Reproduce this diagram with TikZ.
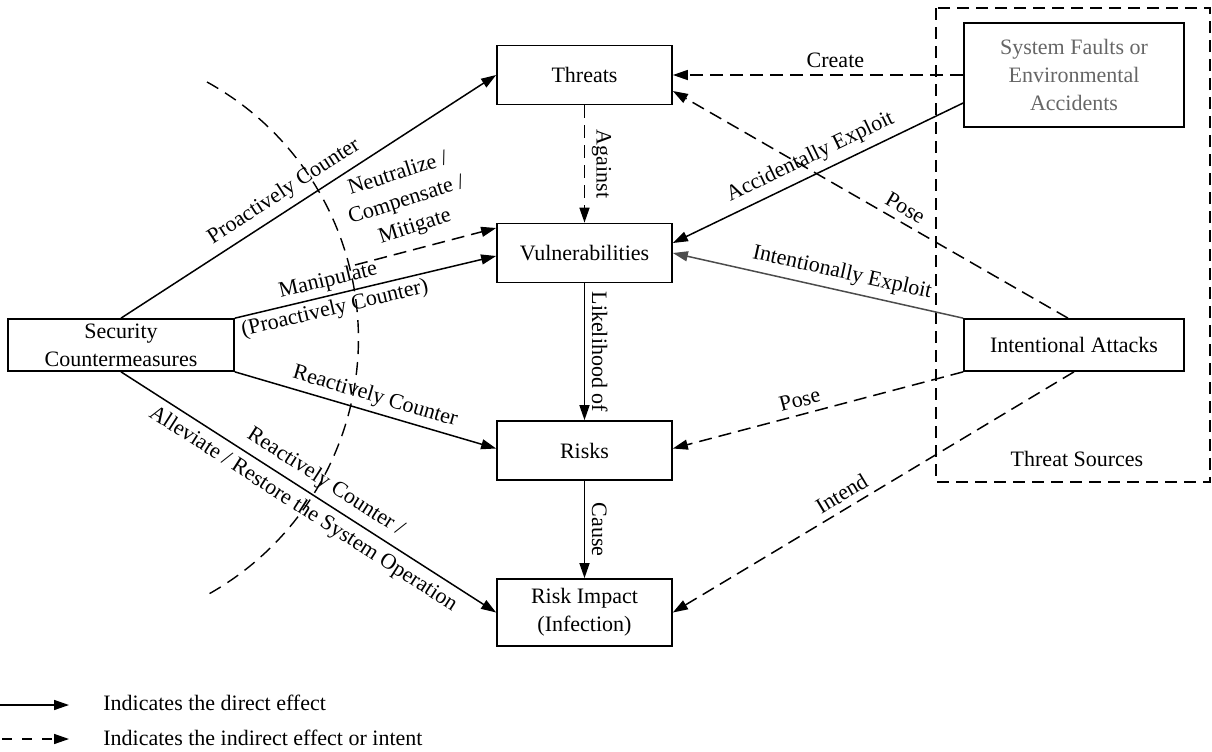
\documentclass[tikz,border=0pt]{standalone}
\usepackage{fontspec}
\setmainfont{Liberation Serif}
\usetikzlibrary{arrows.meta,calc}
\begin{document}
\begin{tikzpicture}[x=0.5pt,y=-0.5pt,
  font=\fontsize{11}{13.9}\selectfont,
  box/.style={draw,line width=0.85pt,align=center,inner sep=0pt,minimum width=87.5pt,minimum height=29.5pt},
  conn/.style={line width=0.75pt,-{Triangle[length=7.5pt,width=5pt]}},
  dsh/.style={conn,dash pattern=on 6.5pt off 3.5pt},
  lab/.style={sloped,above},
  arcstyle/.style={line width=0.7pt,dash pattern=on 6.5pt off 4pt},
  srcbox/.style={line width=0.7pt,dash pattern=on 6pt off 3.5pt},
]
\useasboundingbox (0,0) rectangle (1212,751);

% threat sources dashed frame
\draw[srcbox] (936,8) rectangle (1210,482);
\node (srclab) at (1077,459) {Threat Sources};

% boxes
\node[box] (thr) at (584.5,75) {Threats};
\node[box] (vul) at (584.5,253) {Vulnerabilities};
\node[box] (risk) at (584.5,450.5) {Risks};
\node[box,minimum height=33.5pt] (imp) at (584.5,612.5) {Risk Impact\\(Infection)};
\node[box,minimum width=113pt,minimum height=26pt] (sec) at (121,345) {Security\\Countermeasures};
\node[box,minimum width=110pt,minimum height=52pt,text=black!60] (sys) at (1074,75) {System Faults or\\Environmental\\Accidents};
\node[box,minimum width=110pt,minimum height=26pt] (att) at (1074,345) {Intentional Attacks};

% dashed arc
\coordinate (arcA) at (207,82);
\draw[arcstyle] (arcA) arc[start angle=-61.1, end angle=61.1, radius=293];
\coordinate (nstart) at (355,265);

% security countermeasures connectors
\draw[conn] (sec.north) -- (thr.west)
  node[lab,pos=0.46] {Proactively Counter};
\draw[conn] (sec.north east) -- ($(vul.west)+(0,3)$)
  node[sloped,pos=0.37,align=center,font=\fontsize{11}{14.5}\selectfont] {Manipulate\\(Proactively Counter)};
\draw[dsh] (nstart) -- ($(vul.west)+(0,-25)$)
  node[sloped,above,pos=0.47,align=center,yshift=2pt,rotate=3] {Neutralize /\\Compensate /\\Mitigate};
\draw[conn] (sec.south east) -- ($(risk.west)+(0,-2)$)
  node[lab,pos=0.52,yshift=-1pt] {Reactively Counter};
\draw[conn] (sec.south) -- (imp.west)
  node[lab,pos=0.52] {Reactively Counter /}
  node[sloped,below,pos=0.51] {Alleviate / Restore the System Operation};

% vertical chain
\draw[dsh] (thr.south) -- (vul.north) node[lab,midway] {Against};
\draw[conn] (vul.south) -- (risk.north) node[lab,midway] {Likelihood of};
\draw[conn] (risk.south) -- (imp.north) node[lab,midway] {Cause};

% threat sources connectors
\draw[dsh] (sys.west) -- (thr.east) node[lab,pos=0.44] {Create};
\draw[conn] ($(sys.west)+(0,28)$) -- ($(vul.east)+(0,-10)$)
  node[lab,pos=0.5] {Accidentally Exploit};
\draw[dsh] ($(att.north)+(-6,0)$) -- ($(thr.east)+(0,16)$)
  node[lab,pos=0.43] {Pose};
\draw[conn,draw=black!70,fill=black!70] (att.north west) -- (vul.east)
  node[lab,pos=0.43,text=black] {Intentionally Exploit};
\draw[dsh] (att.south west) -- ($(risk.east)+(0,-2)$)
  node[lab,pos=0.55] {Pose};
\draw[dsh] (att.south) -- (imp.east)
  node[lab,pos=0.56] {Intend};

% legend
\coordinate (l1a) at (0,705);
\coordinate (l1b) at (69,705);
\coordinate (l2a) at (2,739);
\coordinate (l2b) at (69,739);
\draw[conn] (l1a) -- (l1b);
\draw[conn,dash pattern=on 5pt off 5pt] (l2a) -- (l2b);
\node[anchor=west,inner sep=0pt] (leg1) at (103,703) {Indicates the direct effect};
\node[anchor=west,inner sep=0pt] (leg2) at (103,738) {Indicates the indirect effect or intent};
\end{tikzpicture}
\end{document}
